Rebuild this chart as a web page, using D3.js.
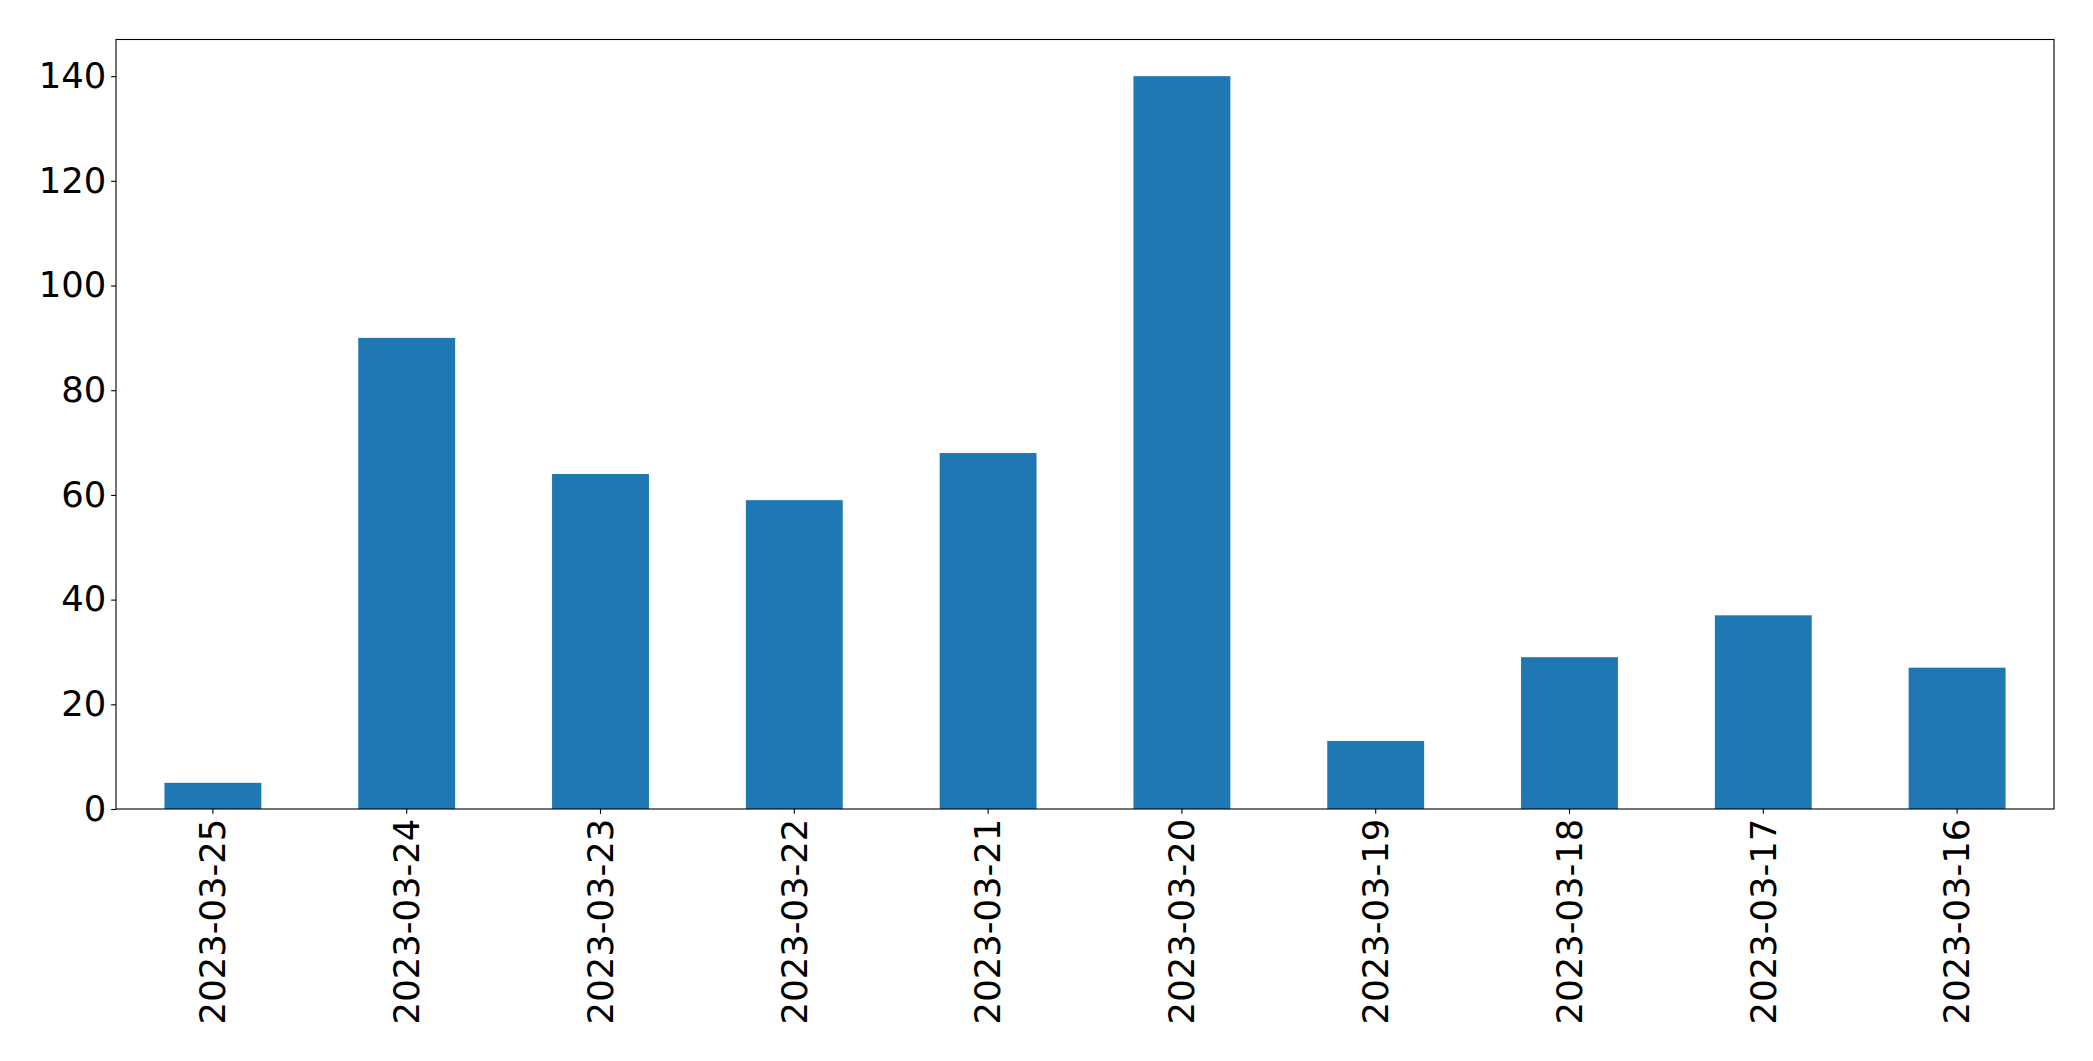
<!DOCTYPE html>
<html>
<head>
<meta charset="utf-8">
<script src="https://cdn.jsdelivr.net/npm/d3@7"></script>
<style>
    body { margin: 0; background: white; }
    svg { display: block; }
    .tick text { font-family: "DejaVu Sans", sans-serif; font-size: 35.4px; fill: black; }
</style>
</head>
<body>
<div class="chart"></div>
<script>
var dates = ['2023-03-25', '2023-03-24', '2023-03-23', '2023-03-22', '2023-03-21',
    '2023-03-20', '2023-03-19', '2023-03-18', '2023-03-17', '2023-03-16'];
var counts = [5, 90, 64, 59, 68, 140, 13, 29, 37, 27];
var yTicks = [0, 20, 40, 60, 80, 100, 120, 140];

var width = 2093;
var height = 1061;
var margin = { top: 39.5, right: 2093 - 2054, bottom: 1061 - 809, left: 116 };

var svg = d3.select('.chart')
    .append('svg')
    .attr('width', width)
    .attr('height', height);

var x = d3.scaleBand()
    .domain(dates)
    .range([margin.left, width - margin.right])
    .paddingInner(0.5)
    .paddingOuter(0.25);

var y = d3.scaleLinear()
    .domain([0, 147])
    .range([height - margin.bottom, margin.top]);

// bars
svg.append('g')
    .selectAll('rect')
    .data(counts)
    .enter()
    .append('rect')
    .attr('x', function (d, i) { return x(dates[i]); })
    .attr('y', function (d) { return y(d); })
    .attr('width', x.bandwidth())
    .attr('height', function (d) { return y(0) - y(d); })
    .attr('fill', '#1f77b4');

// axes
var xAxis = svg.append('g')
    .attr('transform', 'translate(0,' + (height - margin.bottom) + ')')
    .call(d3.axisBottom(x).tickSize(4.86).tickPadding(4.86));

xAxis.selectAll('.tick text')
    .attr('transform', 'rotate(-90)')
    .attr('text-anchor', 'end')
    .attr('x', -9.7)
    .attr('y', 0)
    .attr('dy', '0.35em');

var yAxis = svg.append('g')
    .attr('transform', 'translate(' + margin.left + ',0)')
    .call(d3.axisLeft(y).tickValues(yTicks).tickSize(4.86).tickPadding(4.86));

svg.selectAll('.domain').remove();
svg.selectAll('.tick line').attr('stroke', 'black').attr('stroke-width', 1.1);

// frame
svg.append('rect')
    .attr('x', margin.left)
    .attr('y', margin.top)
    .attr('width', width - margin.left - margin.right)
    .attr('height', height - margin.top - margin.bottom)
    .attr('fill', 'none')
    .attr('stroke', 'black')
    .attr('stroke-width', 1.1);
</script>
</body>
</html>
